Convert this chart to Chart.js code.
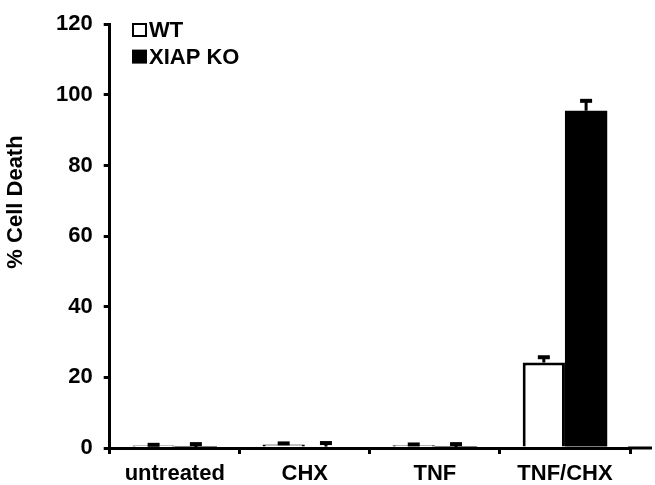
<!DOCTYPE html>
<html>
<head>
<meta charset="utf-8">
<script src="https://cdn.jsdelivr.net/npm/chart.js@4.4.1/dist/chart.umd.min.js"></script>
<style>
  html, body { margin: 0; padding: 0; background: #fff; }
  #wrap { width: 655px; height: 485px; }
</style>
</head>
<body>
<div id="wrap"><canvas id="chart" width="655" height="485"></canvas></div>
<script>
// values
const categories = ['untreated', 'CHX', 'TNF', 'TNF/CHX'];
const wtValues = [0.7, 1.0, 0.8, 24.2];
const wtErrors = [0.2, 0.3, 0.2, 1.5];
const koValues = [0.2, 0.4, 0.2, 95.5];
const koErrors = [0.9, 1.0, 0.9, 2.8];
const yTicks = [0, 20, 40, 60, 80, 100, 120];
const yTitle = '% Cell Death';

const FONT = '"Liberation Sans", Arial, Helvetica, sans-serif';
const BOLD22 = 'bold 22px ' + FONT;

// error bars, legend, axis title and the long x axis line
const extras = {
  id: 'extras',
  afterDatasetsDraw(chart) {
    const { ctx, chartArea: a } = chart;
    const y = chart.scales.y;
    ctx.save();
    ctx.strokeStyle = '#000';
    chart.data.datasets.forEach((ds, i) => {
      chart.getDatasetMeta(i).data.forEach((bar, j) => {
        const top = y.getPixelForValue(ds.data[j]);
        const hi = y.getPixelForValue(ds.data[j] + ds.errors[j]);
        ctx.lineWidth = 3;
        ctx.beginPath();
        ctx.moveTo(bar.x, top);
        ctx.lineTo(bar.x, hi);
        ctx.stroke();
        ctx.lineWidth = 4;
        ctx.beginPath();
        ctx.moveTo(bar.x - 6, hi);
        ctx.lineTo(bar.x + 6, hi);
        ctx.stroke();
      });
    });

    ctx.lineWidth = 3;
    ctx.beginPath();
    ctx.moveTo(a.right - 2, y.getPixelForValue(0));
    ctx.lineTo(652, y.getPixelForValue(0));
    ctx.stroke();

    // legend
    ctx.font = BOLD22;
    ctx.textBaseline = 'alphabetic';
    ctx.fillStyle = '#000';
    chart.data.datasets.forEach((ds, i) => {
      const top = 23 + i * 26.6;
      if (ds.backgroundColor === '#000') {
        ctx.fillRect(132, top, 15, 14);
      } else {
        ctx.lineWidth = 2;
        ctx.strokeRect(133, top + 1, 13, 12);
      }
      ctx.fillText(ds.label, 149, top + 14);
    });

    // y axis title
    ctx.translate(16, 202);
    ctx.rotate(-Math.PI / 2);
    ctx.textAlign = 'center';
    ctx.textBaseline = 'middle';
    ctx.fillText(yTitle, 0, 0);
    ctx.restore();
  }
};

new Chart(document.getElementById('chart'), {
  type: 'bar',
  data: {
    labels: categories,
    datasets: [
      {
        label: 'WT',
        data: wtValues,
        errors: wtErrors,
        backgroundColor: '#fff',
        borderColor: '#000',
        borderWidth: 3,
      },
      {
        label: 'XIAP KO',
        data: koValues,
        errors: koErrors,
        backgroundColor: '#000',
        borderColor: '#000',
        borderWidth: 0,
      },
    ],
  },
  options: {
    responsive: false,
    animation: false,
    devicePixelRatio: 1,
    layout: { padding: { top: 5, right: 25, left: 45, bottom: -9 } },
    datasets: { bar: { categoryPercentage: 0.65, barPercentage: 1 } },
    scales: {
      x: {
        grid: {
          drawOnChartArea: false,
          tickLength: 6,
          lineWidth: 3,
          color: (c) => (c.index === 4 ? 'rgba(0,0,0,0)' : '#000'),
        },
        border: { color: '#000', width: 3 },
        ticks: { color: '#000', font: { family: FONT, size: 22, weight: 'bold', lineHeight: 1 }, padding: 9 },
      },
      y: {
        min: 0,
        max: 120,
        afterBuildTicks: (s) => { s.ticks = yTicks.map((v) => ({ value: v })); },
        grid: { drawOnChartArea: false, tickLength: 6, lineWidth: 3, color: '#000' },
        border: { color: '#000', width: 3 },
        ticks: { color: '#000', font: { family: FONT, size: 22, weight: 'bold' }, padding: 11 },
      },
    },
    plugins: {
      legend: { display: false },
      tooltip: { enabled: false },
    },
  },
  plugins: [extras],
});
</script>
</body>
</html>
